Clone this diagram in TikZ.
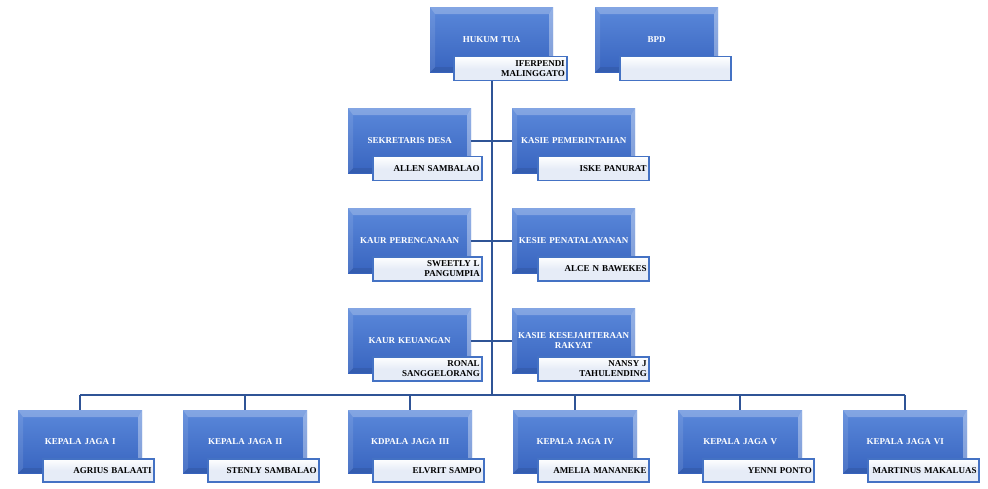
\documentclass[tikz,border=0pt]{standalone}
\usepackage{fontspec}
\setmainfont{Liberation Serif}
\usetikzlibrary{calc,positioning}

\definecolor{jabtop}{HTML}{5A88DA}
\definecolor{jabbot}{HTML}{3864BF}
\definecolor{garisbiru}{HTML}{2F5496}
\definecolor{namatop}{HTML}{FFFFFF}
\definecolor{namafill}{HTML}{E6ECF7}
\definecolor{namaline}{HTML}{4472C4}

\tikzset{
  jabatan/.style={rectangle, anchor=north west, inner sep=0pt,
    minimum width=123pt, minimum height=65pt, text width=123pt, align=center,
    top color=jabtop, bottom color=jabbot, text=white,
    font=\fontsize{9}{10}\selectfont\bfseries,
    path picture={
      % bevel atas, kiri, kanan, bawah
      \fill[white,opacity=.25] (path picture bounding box.north west) -- (path picture bounding box.north east)
        -- ([xshift=-4pt,yshift=-7pt]path picture bounding box.north east) -- ([xshift=5pt,yshift=-7pt]path picture bounding box.north west) -- cycle;
      \fill[white,opacity=.10] (path picture bounding box.north west) -- ([xshift=5pt,yshift=-7pt]path picture bounding box.north west)
        -- ([xshift=5pt,yshift=5pt]path picture bounding box.south west) -- (path picture bounding box.south west) -- cycle;
      \fill[white,opacity=.35] (path picture bounding box.north east) -- (path picture bounding box.south east)
        -- ([xshift=-4pt,yshift=5pt]path picture bounding box.south east) -- ([xshift=-4pt,yshift=-7pt]path picture bounding box.north east) -- cycle;
      \fill[black,opacity=.08] (path picture bounding box.south west) -- (path picture bounding box.south east)
        -- ([xshift=-4pt,yshift=5pt]path picture bounding box.south east) -- ([xshift=5pt,yshift=5pt]path picture bounding box.south west) -- cycle;
    }},
  nama/.style={rectangle, anchor=north west, draw=namaline, line width=1.5pt,
    top color=namatop, bottom color=namafill, middle color=namafill,
    minimum height=24pt, text width=#1, align=right, inner xsep=2pt, inner ysep=1pt,
    font=\fontsize{9}{10}\selectfont\bfseries},
  nama/.default=107pt,
  penghubung/.style={draw=garisbiru, line width=2pt}
}

\begin{document}
\begin{tikzpicture}[x=1pt,y=-1pt]
    % ukuran gambar
    \useasboundingbox (0,0) rectangle (988,489);

    % Hukum Tua dan BPD
    \node[jabatan] (hukum) at (430,7) {HUKUM TUA};
    \node[nama=109pt] (hukumN) at (453,56) {IFERPENDI\\MALINGGATO};
    \node[jabatan] (bpd) at (595,7) {BPD};
    \node[nama=107pt] (bpdN) at (619,56) {};

    % perangkat kiri
    \node[jabatan] (sekdes) at (348,108) {SEKRETARIS DESA};
    \node[nama=105pt] (sekdesN) at (372,156) {ALLEN SAMBALAO};
    \node[jabatan] (kaurren) at (348,208) {KAUR PERENCANAAN};
    \node[nama=105pt] (kaurrenN) at (372,256) {SWEETLY L\\PANGUMPIA};
    \node[jabatan] (kaurkeu) at (348,308) {KAUR KEUANGAN};
    \node[nama=105pt] (kaurkeuN) at (372,356) {RONAL\\SANGGELORANG};

    % perangkat kanan
    \node[jabatan] (kasiepem) at (512,108) {KASIE PEMERINTAHAN};
    \node[nama=107pt] (kasiepemN) at (537,156) {ISKE PANURAT};
    \node[jabatan] (kasiepel) at (512,208) {KESIE PENATALAYANAN};
    \node[nama=107pt] (kasiepelN) at (537,256) {ALCE N BAWEKES};
    \node[jabatan] (kasiekes) at (512,308) {KASIE KESEJAHTERAAN\\RAKYAT};
    \node[nama=107pt] (kasiekesN) at (537,356) {NANSY J\\TAHULENDING};

    % kepala jaga
    \coordinate (bus) at (0,395);
    \foreach \i/\jab/\org in {1/KEPALA JAGA I/AGRIUS BALAATI,
                              2/KEPALA JAGA II/STENLY SAMBALAO,
                              3/KDPALA JAGA III/ELVRIT SAMPO,
                              4/KEPALA JAGA IV/AMELIA MANANEKE,
                              5/KEPALA JAGA V/YENNI PONTO,
                              6/KEPALA JAGA VI/MARTINUS MAKALUAS} {
        \node[jabatan, minimum width=124pt, text width=124pt, minimum height=63pt] (jaga\i) at ({18+165*(\i-1)},410) {\jab};
        \node[nama=107pt, minimum height=23pt] (jagaN\i) at ({42+165*(\i-1)},458) {\org};
    }

    % garis penghubung
    \draw[penghubung] (hukum.center |- hukumN.south) -- (hukum.center |- bus);
    \draw[penghubung] (sekdes.east) -- (kasiepem.west);
    \draw[penghubung] (kaurren.east) -- (kasiepel.west);
    \draw[penghubung] (kaurkeu.east) -- (kasiekes.west);
    \draw[penghubung] (jaga1.north |- bus) -- (jaga6.north |- bus);
    \foreach \i in {1,...,6}
        \draw[penghubung] (jaga\i.north |- bus) -- (jaga\i.north);
\end{tikzpicture}
\end{document}
